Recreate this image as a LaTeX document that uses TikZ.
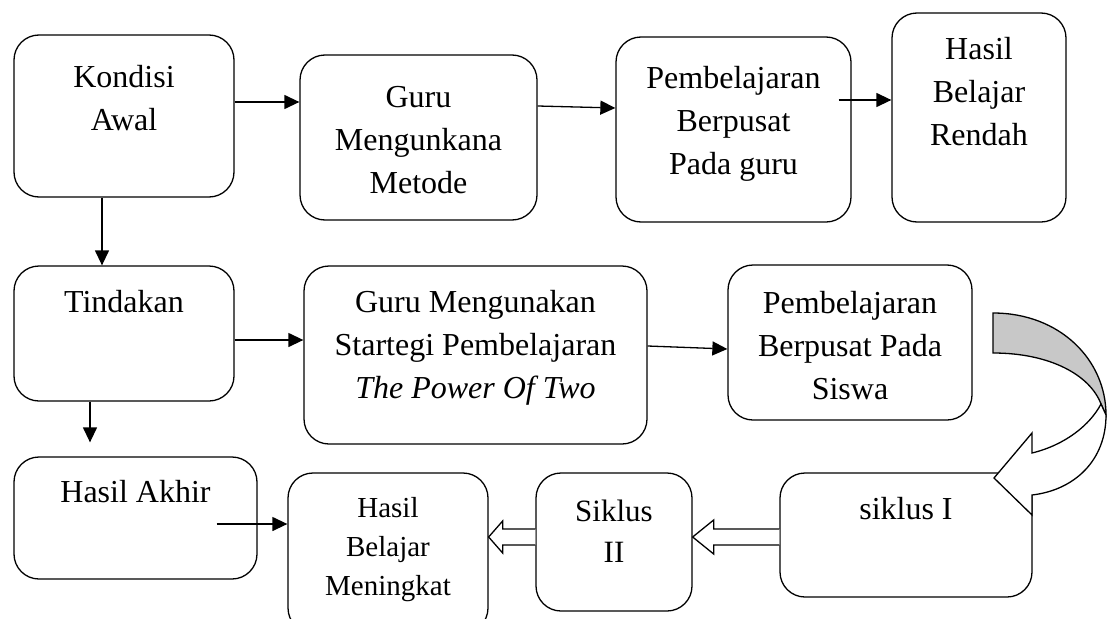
\documentclass[tikz,border=0pt]{standalone}
\usepackage{fontspec}
\setmainfont{Liberation Serif}
\usetikzlibrary{calc,arrows.meta}
\definecolor{bandgray}{RGB}{200,200,200}
\newcommand\bt[4]{\parbox[c][#2pt][t]{#1pt}{\centering\rule{0pt}{#3pt}#4\par}}
\tikzset{
  box/.style={draw, line width=1.3pt, rounded corners=25pt, inner sep=0pt, font=\fontsize{32}{43}\selectfont},
  arr/.style={line width=1.3pt, -{Triangle[length=15pt,width=14pt]}},
  blockarr/.style={draw, line width=1.3pt, fill=white, line join=miter},
  bandline/.style={line width=1.3pt, line join=miter},
}
\begin{document}
\begin{tikzpicture}[x=1pt,y=-1pt]
\fill[white] (0,0) rectangle (1107,618);
\useasboundingbox (0,0) rectangle (1107,618);
\clip (0,0) rectangle (1107,618);
% row 1
\node[box] (k) at (124,116) {\bt{220}{162}{52}{Kondisi\\Awal}};
\node[box] (gm) at (418.5,137.5) {\bt{237}{165}{52}{Guru\\Mengunkana\\Metode}};
\node[box] (pg) at (733.5,129.5) {\bt{235}{185}{51}{Pembelajaran\\Berpusat\\Pada guru}};
\node[box] (hr) at (979,117.5) {\bt{174}{209}{46}{Hasil\\Belajar\\Rendah}};
% row 2
\node[box] (t) at (124,333.5) {\bt{220}{135}{46}{Tindakan}};
\node[box] (gs) at (475.5,355) {\bt{343}{178}{46}{Guru Mengunakan\\Startegi Pembelajaran\\\textit{The Power Of Two}}};
\node[box] (ps) at (850,342.5) {\bt{244}{155}{48}{Pembelajaran\\Berpusat Pada\\Siswa}};
% row 3
\node[box] (ha) at (135.5,518) {\bt{243}{122}{45}{Hasil Akhir}};
\node[box, font=\fontsize{29}{39}\selectfont] (hm) at (388,553) {\bt{200}{160}{44}{Hasil\\Belajar\\Meningkat}};
\node[box, font=\fontsize{31}{41}\selectfont] (s2) at (614,542) {\bt{156}{138}{48}{Siklus\\II}};
\node[box] (s1) at (906,535) {\bt{252}{124}{46}{siklus I}};
% arrows
\draw[arr] ($(k.east)+(0,-14)$) -- ($(gm.west)+(0,-35.5)$);
\draw[arr] ($(gm.east)+(0,-31.5)$) -- ($(pg.west)+(0,-21.5)$);
\draw[arr] ($(pg.east)+(-13,-29.5)$) -- ($(hr.west)+(0,-17.5)$);
\draw[arr] ($(k.south)+(-22,0)$) -- ($(t.north)+(-22,0)$);
\draw[arr] ($(t.east)+(0,6.5)$) -- ($(gs.west)+(0,-15)$);
\draw[arr] ($(gs.east)+(0,-9)$) -- ($(ps.west)+(0,6.5)$);
\draw[arr] ($(t.south)+(-34,0)$) -- ($(ha.north)+(-45.5,-14)$);
\draw[arr] ($(ha.east)+(-41,6)$) -- ($(hm.west)+(0,-29)$);
% block arrows
\coordinate (a1) at ($(s1.west)+(0,2)$);
\coordinate (t1) at ($(s2.east)+(0,-5)$);
\coordinate (a2) at ($(s2.west)+(0,-5)$);
\coordinate (t2) at ($(hm.east)+(0,-16)$);
\draw[blockarr] ($(a1)+(0,-8)$) -- ($(t1)+(21,-8)$) -- ($(t1)+(21,-17)$) -- (t1) -- ($(t1)+(21,17)$) -- ($(t1)+(21,8)$) -- ($(a1)+(0,8)$);
\draw[blockarr] ($(a2)+(0,-8)$) -- ($(t2)+(14,-8)$) -- ($(t2)+(14,-16)$) -- (t2) -- ($(t2)+(14,16)$) -- ($(t2)+(14,8)$) -- ($(a2)+(0,8)$);
% curved arrow from ps to s1
\draw[bandline, fill=bandgray] (993,313) .. controls (1060,313) and (1106,360) .. (1106,415) -- (1101,404) .. controls (1090,375) and (1050,353) .. (993,353) -- cycle;
\draw[bandline, fill=white] (1101,404) .. controls (1090,425) and (1065,445) .. (1032,453) -- (1032,433) -- (994,478) -- (1032,515) -- (1032,495) .. controls (1075,490) and (1106,460) .. (1106,415) -- cycle;
\end{tikzpicture}
\end{document}
